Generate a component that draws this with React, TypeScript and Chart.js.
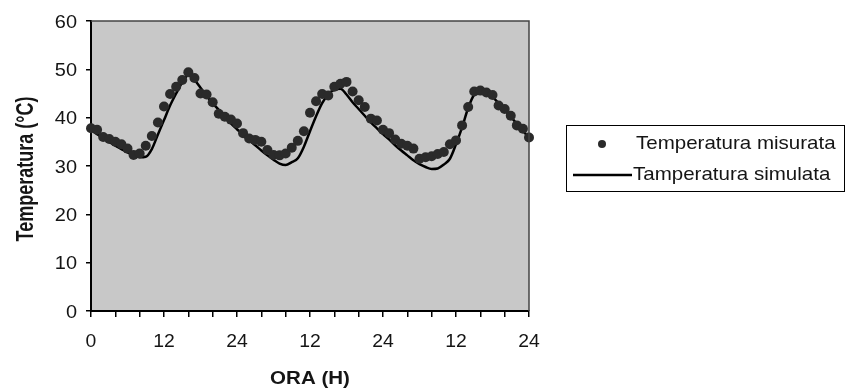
import React, { useEffect, useRef } from 'react';
import { Chart, registerables } from 'chart.js';

Chart.register(...registerables);

const hours = [
  0, 1, 2, 3, 4, 5, 6, 7, 8, 9, 10, 11, 12, 13, 14, 15, 16, 17, 18, 19, 20, 21, 22, 23, 24,
  25, 26, 27, 28, 29, 30, 31, 32, 33, 34, 35, 36, 37, 38, 39, 40, 41, 42, 43, 44, 45, 46, 47, 48,
  49, 50, 51, 52, 53, 54, 55, 56, 57, 58, 59, 60, 61, 62, 63, 64, 65, 66, 67, 68, 69, 70, 71, 72,
];

const measured = [
  37.8, 37.5, 36.0, 35.6, 35.0, 34.5, 33.6, 32.3, 32.6, 34.2, 36.2, 39.0, 42.3, 44.9, 46.4, 47.8,
  49.4, 48.2, 45.0, 44.8, 43.2, 40.8, 40.2, 39.6, 38.8, 36.8, 35.7, 35.4, 35.0, 33.3, 32.3, 32.2,
  32.6, 33.8, 35.2, 37.2, 41.0, 43.4, 44.9, 44.6, 46.4, 47.0, 47.4, 45.4, 43.6, 42.2, 39.8, 39.4,
  37.5, 36.8, 35.5, 34.6, 34.2, 33.6, 31.5, 31.8, 32.0, 32.5, 32.9, 34.5, 35.3, 38.4, 42.2, 45.4,
  45.6, 45.2, 44.7, 42.5, 41.8, 40.4, 38.4, 37.7, 35.9,
];

const simulated = [
  37.5, 36.6, 35.8, 35.0, 34.2, 33.5, 32.8, 32.2, 31.8, 31.9, 33.5, 36.5, 39.5, 42.5, 45.0, 47.3,
  48.8, 47.8, 46.2, 44.5, 43.0, 41.6, 40.2, 38.8, 37.6, 36.4, 35.3, 34.3, 33.2, 32.2, 31.3, 30.5,
  30.2, 30.8, 31.6, 34.0, 37.2, 40.3, 43.0, 44.8, 45.8, 46.0, 44.8, 43.2, 41.8, 40.4, 39.0, 37.8,
  36.6, 35.5, 34.3, 33.2, 32.2, 31.2, 30.4, 29.8, 29.4, 29.5, 30.3, 31.5, 34.5, 38.0, 42.0, 44.8,
  45.6, 45.3, 44.3, 43.0, 41.6, 40.2, 38.7, 37.3, 35.8,
];

const xTickLabels = ['0', '12', '24', '12', '24', '12', '24'];
const xTitle = 'ORA (H)';
const yTitle = 'Temperatura (°C)';
const legendLabels = ['Temperatura misurata', 'Tamperatura simulata'];

const FONT = "'Liberation Sans', Arial, sans-serif";
const TEXT_COLOR = '#151515';
const DOT_COLOR = '#2a2a2a';

function stretchedText(
  ctx: CanvasRenderingContext2D,
  text: string,
  x: number,
  y: number,
  align: CanvasTextAlign,
  sx: number
) {
  ctx.save();
  ctx.translate(x, y);
  ctx.scale(sx, 1);
  ctx.textAlign = align;
  ctx.textBaseline = 'alphabetic';
  ctx.fillText(text, 0, 0);
  ctx.restore();
}

const plotBackground = {
  id: 'plotBackground',
  beforeDraw(chart: any) {
    const { ctx, chartArea } = chart;
    ctx.save();
    ctx.fillStyle = '#c8c8c8';
    ctx.fillRect(chartArea.left, chartArea.top, chartArea.right - chartArea.left, chartArea.bottom - chartArea.top);
    ctx.restore();
  },
  afterDraw(chart: any) {
    const { ctx, chartArea } = chart;
    ctx.save();
    ctx.strokeStyle = '#444';
    ctx.lineWidth = 1.5;
    ctx.beginPath();
    ctx.moveTo(chartArea.left, chartArea.top);
    ctx.lineTo(chartArea.right, chartArea.top);
    ctx.lineTo(chartArea.right, chartArea.bottom);
    ctx.stroke();
    ctx.restore();
  },
};

const axisText = {
  id: 'axisText',
  afterDraw(chart: any) {
    const ctx: CanvasRenderingContext2D = chart.ctx;
    const xs = chart.scales.x;
    const ys = chart.scales.y;
    ctx.save();
    ctx.fillStyle = TEXT_COLOR;
    ctx.font = `19px ${FONT}`;
    ys.ticks.forEach((t: any) => {
      const py = ys.getPixelForValue(t.value);
      stretchedText(ctx, String(t.value), 77, py + 6.8, 'right', 1.05);
    });
    xs.ticks.forEach((t: any) => {
      const v = Number(t.value);
      if (v % 12 !== 0) return;
      const px = xs.getPixelForValue(v);
      stretchedText(ctx, xTickLabels[v / 12], px, 347, 'center', 1.02);
    });
    ctx.font = `bold 19px ${FONT}`;
    stretchedText(ctx, xTitle, (chart.chartArea.left + chart.chartArea.right) / 2, 384, 'center', 1.08);
    ctx.font = `bold 18px ${FONT}`;
    ctx.save();
    ctx.translate(33, (chart.chartArea.top + chart.chartArea.bottom) / 2 + 3);
    ctx.rotate(-Math.PI / 2);
    ctx.scale(1, 1.3);
    ctx.textAlign = 'center';
    ctx.textBaseline = 'alphabetic';
    ctx.fillText(yTitle, 0, 0);
    ctx.restore();
    ctx.restore();
  },
};

const customLegend = {
  id: 'customLegend',
  afterDraw(chart: any) {
    const ctx: CanvasRenderingContext2D = chart.ctx;
    ctx.save();
    ctx.fillStyle = '#ffffff';
    ctx.fillRect(566, 125, 279, 67);
    ctx.strokeStyle = '#000';
    ctx.lineWidth = 1;
    ctx.strokeRect(566.5, 125.5, 278, 66);
    ctx.fillStyle = DOT_COLOR;
    ctx.beginPath();
    ctx.arc(602, 144, 4, 0, Math.PI * 2);
    ctx.fill();
    ctx.strokeStyle = '#000';
    ctx.lineWidth = 2.5;
    ctx.beginPath();
    ctx.moveTo(573, 175);
    ctx.lineTo(632, 175);
    ctx.stroke();
    ctx.fillStyle = TEXT_COLOR;
    ctx.font = `19px ${FONT}`;
    stretchedText(ctx, legendLabels[0], 636, 148.5, 'left', 1.08);
    stretchedText(ctx, legendLabels[1], 633, 180, 'left', 1.08);
    ctx.restore();
  },
};

export default function App() {
  const canvasRef = useRef<HTMLCanvasElement | null>(null);

  useEffect(() => {
    document.body.style.margin = '0';
    const canvas = canvasRef.current;
    if (!canvas) return;
    const chart = new Chart(canvas, {
      type: 'line',
      data: {
        datasets: [
          {
            label: legendLabels[0],
            data: hours.map((h, i) => ({ x: h, y: measured[i] })),
            showLine: false,
            pointRadius: 5,
            pointBackgroundColor: DOT_COLOR,
            pointBorderColor: DOT_COLOR,
            pointBorderWidth: 0,
            clip: false,
            order: 1,
          },
          {
            label: legendLabels[1],
            data: hours.map((h, i) => ({ x: h, y: simulated[i] })),
            borderColor: '#000',
            borderWidth: 2.5,
            pointRadius: 0,
            cubicInterpolationMode: 'monotone',
            fill: false,
            order: 2,
          },
        ],
      },
      options: {
        animation: false,
        responsive: false,
        layout: { padding: { left: 0, top: 21, right: 318, bottom: 0 } },
        plugins: {
          legend: { display: false },
          tooltip: { enabled: false },
        },
        scales: {
          x: {
            type: 'linear',
            min: 0,
            max: 72,
            afterFit(scale: any) {
              scale.height = 81;
            },
            border: { display: true, color: '#000', width: 2 },
            grid: { display: true, drawOnChartArea: false, drawTicks: true, tickLength: 6, color: '#000', lineWidth: 1.5 },
            ticks: { display: false, stepSize: 4, autoSkip: false, maxRotation: 0 },
            title: { display: false },
          },
          y: {
            min: 0,
            max: 60,
            afterFit(scale: any) {
              scale.width = 91;
            },
            border: { display: true, color: '#000', width: 2 },
            grid: { display: true, drawOnChartArea: false, drawTicks: true, tickLength: 5, color: '#000', lineWidth: 1.5 },
            ticks: { display: false, stepSize: 10 },
            title: { display: false },
          },
        },
      },
      plugins: [plotBackground, axisText, customLegend],
    } as any);
    return () => chart.destroy();
  }, []);

  return (
    <div style={{ width: 847, height: 392 }}>
      <canvas ref={canvasRef} width={847} height={392} style={{ display: 'block' }} />
    </div>
  );
}
